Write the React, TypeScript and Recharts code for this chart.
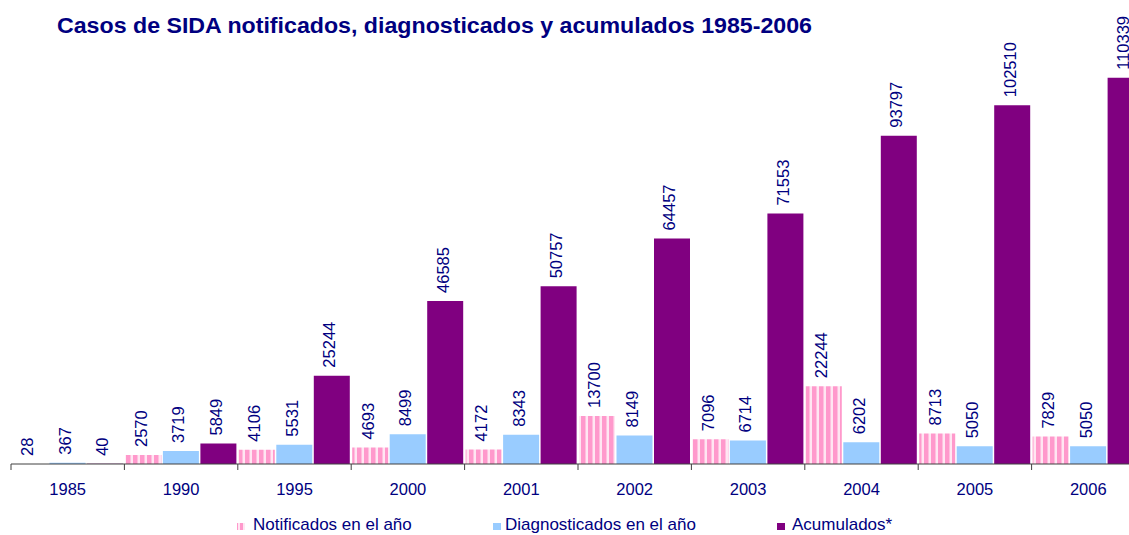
import React from 'react';
import { BarChart, Bar, XAxis, YAxis, LabelList, Legend } from 'recharts';

const years = ['1985', '1990', '1995', '2000', '2001', '2002', '2003', '2004', '2005', '2006'];
const notificados = [28, 2570, 4106, 4693, 4172, 13700, 7096, 22244, 8713, 7829];
const diagnosticados = [367, 3719, 5531, 8499, 8343, 8149, 6714, 6202, 5050, 5050];
const acumulados = [40, 5849, 25244, 46585, 50757, 64457, 71553, 93797, 102510, 110339];

const seriesNames = ['Notificados en el año', 'Diagnosticados en el año', 'Acumulados*'];

const data = years.map((y, i) => ({
  year: y,
  notificados: notificados[i],
  diagnosticados: diagnosticados[i],
  acumulados: acumulados[i],
}));

const NAVY = '#000080';
const PINK = '#ff99cc';
const BLUE = '#99ccff';
const PURPLE = '#800080';
const FONT = '"Liberation Sans", Arial, sans-serif';

const CHART_W = 1160;
const MARGIN_L = 11;
const MARGIN_R = CHART_W - MARGIN_L - 1134;
const BAND = 1134 / years.length;

const ValueLabel = (props: any) => {
  const { x, y, width, value } = props;
  const cx = x + width / 2 - 2.5;
  const ty = y - 8;
  return (
    <text
      x={cx}
      y={ty}
      transform={`rotate(-90, ${cx}, ${ty})`}
      textAnchor="start"
      dominantBaseline="central"
      fill={NAVY}
      fontSize={16.5}
      fontFamily={FONT}
    >
      {value}
    </text>
  );
};

const YearTick = (props: any) => {
  const { x, y, payload } = props;
  const bx = x - BAND / 2;
  return (
    <g>
      <line x1={bx} y1={y} x2={bx} y2={y + 6} stroke="#404040" strokeWidth={1} />
      <text x={x} y={y + 31} textAnchor="middle" fill={NAVY} fontSize={16.5} fontFamily={FONT}>
        {payload.value}
      </text>
    </g>
  );
};

const LegendContent = () => {
  const items = [
    { name: seriesNames[0], fill: 'url(#pinkStripesIcon)', iconX: 237, textX: 253 },
    { name: seriesNames[1], fill: BLUE, iconX: 493, textX: 505 },
    { name: seriesNames[2], fill: PURPLE, iconX: 777, textX: 792 },
  ];
  return (
    <svg width={1129} height={27} style={{ display: 'block' }}>
      <defs>
        <pattern id="pinkStripesIcon" width="5" height="8" patternUnits="userSpaceOnUse">
          <rect width="5" height="8" fill="#ffe6f2" />
          <rect x="0" width="3" height="8" fill={PINK} />
        </pattern>
      </defs>
      {items.map((it) => (
        <g key={it.name}>
          <rect x={it.iconX} y={15} width={8} height={7} fill={it.fill} />
          <text x={it.textX} y={22} fill={NAVY} fontSize={17} fontFamily={FONT}>
            {it.name}
          </text>
        </g>
      ))}
    </svg>
  );
};

export default function App() {
  return (
    <div style={{ position: 'absolute', left: 0, top: 0, width: 1129, height: 535, overflow: 'hidden', background: '#fff' }}>
      <BarChart
        width={CHART_W}
        height={535}
        data={data}
        margin={{ top: 44, right: MARGIN_R, left: MARGIN_L, bottom: 41 }}
        barCategoryGap={1}
        barGap={1.5}
      >
        <defs>
          <pattern id="pinkStripes" width="7" height="10" patternUnits="userSpaceOnUse">
            <rect width="7" height="10" fill="#ffe6f2" />
            <rect x="0" width="4.5" height="10" fill={PINK} />
          </pattern>
        </defs>
        <text
          x={57}
          y={33}
          fill={NAVY}
          fontSize={22.5}
          fontWeight="bold"
          fontFamily={FONT}
          textLength={755}
          lengthAdjust="spacingAndGlyphs"
        >
          Casos de SIDA notificados, diagnosticados y acumulados 1985-2006
        </text>
        <XAxis
          dataKey="year"
          axisLine={{ stroke: '#404040' }}
          tickLine={false}
          tickSize={0}
          tickMargin={0}
          height={30}
          interval={0}
          tick={<YearTick />}
        />
        <YAxis hide domain={[0, 120000]} />
        <Legend
          layout="horizontal"
          verticalAlign="middle"
          align="center"
          wrapperStyle={{ top: 508, left: 0, width: 1129, height: 27 }}
          content={<LegendContent />}
        />
        <Bar dataKey="notificados" name={seriesNames[0]} fill="url(#pinkStripes)" isAnimationActive={false}>
          <LabelList dataKey="notificados" content={<ValueLabel />} />
        </Bar>
        <Bar dataKey="diagnosticados" name={seriesNames[1]} fill={BLUE} isAnimationActive={false}>
          <LabelList dataKey="diagnosticados" content={<ValueLabel />} />
        </Bar>
        <Bar dataKey="acumulados" name={seriesNames[2]} fill={PURPLE} isAnimationActive={false}>
          <LabelList dataKey="acumulados" content={<ValueLabel />} />
        </Bar>
      </BarChart>
    </div>
  );
}
